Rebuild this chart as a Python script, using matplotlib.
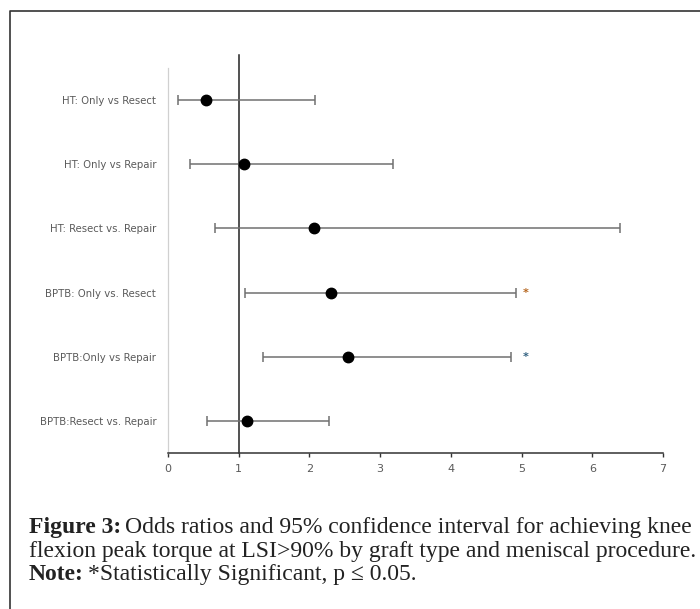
import matplotlib
matplotlib.use("Agg")
import matplotlib.pyplot as plt
from matplotlib.lines import Line2D

categories = ["HT: Only vs Resect", "HT: Only vs Repair", "HT: Resect vs. Repair",
              "BPTB: Only vs. Resect", "BPTB:Only vs Repair", "BPTB:Resect vs. Repair"]
odds_ratio = [0.54, 1.07, 2.07, 2.31, 2.55, 1.12]
ci_low = [0.14, 0.31, 0.66, 1.09, 1.34, 0.55]
ci_high = [2.08, 3.18, 6.39, 4.92, 4.85, 2.28]
significant = [False, False, False, True, True, False]
star_colors = ["#b5651d", "#2f5f7f"]
xticks = [0, 1, 2, 3, 4, 5, 6, 7]
star_x = 5.06

W, H = 700, 609
fig = plt.figure(figsize=(7, 6.09), dpi=100)
ax = fig.add_axes([168 / W, 1 - 453 / H, 495 / W, 385 / H])

ypos = list(range(len(categories)))
xerr = [[o - l for o, l in zip(odds_ratio, ci_low)],
        [h - o for o, h in zip(odds_ratio, ci_high)]]
ax.errorbar(odds_ratio, ypos, xerr=xerr, fmt="none", ecolor="#707070",
            elinewidth=1.1, capsize=3.5, capthick=1.1, zorder=2)
ax.plot(odds_ratio, ypos, "o", color="black", markersize=7.5, zorder=3)

ax.axvline(1, ymin=0, ymax=(453 - 55) / 385, color="#222222", lw=1.1,
           clip_on=False, zorder=1)

si = 0
for y, s in zip(ypos, significant):
    if s:
        ax.text(star_x, y, "*", color=star_colors[si % len(star_colors)],
                ha="center", va="center", fontsize=8, fontweight="bold")
        si += 1

ax.set_xlim(0, 7)
ax.set_ylim(len(categories) - 0.5, -0.5)
ax.set_xticks(xticks)
ax.set_xticklabels([str(t) for t in xticks])
ax.set_yticks(ypos)
ax.set_yticklabels(categories)
ax.tick_params(axis="y", length=0, pad=8.5, labelsize=7.3, labelcolor="#595959")
ax.tick_params(axis="x", length=3, width=1, color="#333333", pad=5,
               labelsize=8, labelcolor="#595959")
for side in ["top", "right"]:
    ax.spines[side].set_visible(False)
ax.spines["left"].set_color("#d0d0d0")
ax.spines["left"].set_linewidth(0.9)
ax.spines["bottom"].set_color("#333333")
ax.spines["bottom"].set_linewidth(1.1)

# figure frame (left and top)
fig.add_artist(Line2D([10 / W, 10 / W, 1.0], [0.0, 1 - 11 / H, 1 - 11 / H],
                      transform=fig.transFigure, color="#333333", lw=1.2))

# caption
cap_fs = 17
cap_font = "Liberation Serif"
x0 = 29 / W
lines_y = [1 - 533 / H, 1 - 557 / H, 1 - 580 / H]
renderer = fig.canvas.get_renderer()

def two_part(y, bold, rest):
    t = fig.text(x0, y, bold, fontsize=cap_fs, family=cap_font,
                 fontweight="bold", color="#222222", va="baseline")
    bb = t.get_window_extent(renderer=renderer)
    fig.text(bb.x1 / W + 4 / W, y, rest, fontsize=cap_fs, family=cap_font,
             color="#222222", va="baseline")

two_part(lines_y[0], "Figure 3:",
         "Odds ratios and 95% confidence interval for achieving knee")
fig.text(x0, lines_y[1],
         "flexion peak torque at LSI>90% by graft type and meniscal procedure.",
         fontsize=cap_fs, family=cap_font, color="#222222", va="baseline")
two_part(lines_y[2], "Note:", "*Statistically Significant, p \u2264 0.05.")

fig.savefig("out.png", dpi=100)
